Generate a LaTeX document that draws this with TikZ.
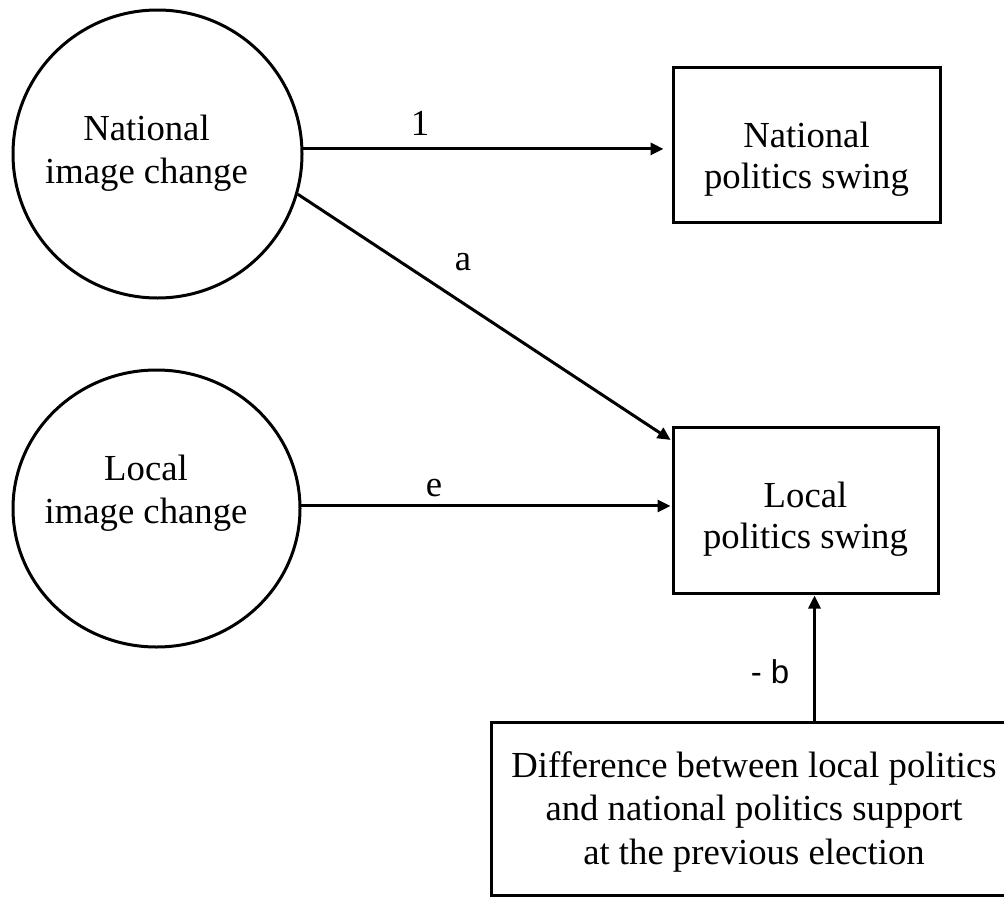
\documentclass[tikz,border=0pt]{standalone}
\usepackage{fontspec}
\setmainfont{Liberation Serif}
\newfontfamily\labelsans{Liberation Sans}
\usetikzlibrary{arrows.meta,shapes.geometric,calc}
\newcommand\boxtext[2]{\makebox[0pt][c]{\hspace*{#1}\begin{tabular}[t]{@{}c@{}}#2\end{tabular}}}
\begin{document}
\begin{tikzpicture}[x=1pt,y=-1pt,
  latent/.style={draw, ellipse, line width=3pt, inner sep=0pt,
    font=\fontsize{36.7}{43}\selectfont},
  observed/.style={draw, rectangle, line width=3pt, inner sep=0pt,
    font=\fontsize{36.7}{41}\selectfont},
  causal/.style={line width=3pt, -{Triangle[length=13pt,width=12pt]}},
  coef/.style={inner sep=0pt, font=\fontsize{36.7}{43}\selectfont},
  bcoef/.style={inner sep=0pt, font=\labelsans\fontsize{33}{38}\selectfont}]
\useasboundingbox (0,0) rectangle (1004,897);
\clip (0,0) rectangle (1004,897);
% latent variables
\node[latent, minimum width=289pt, minimum height=288pt, text height=20pt, text depth=48pt]
  (nic) at (157.5,154) {\boxtext{-22pt}{National\\image change}};
\node[latent, minimum width=287pt, minimum height=277pt, text height=10pt, text depth=67pt]
  (lic) at (156.5,508.5) {\boxtext{-21pt}{Local\\image change}};
% observed variables
\node[observed, minimum width=267pt, minimum height=155pt, text height=30pt, text depth=25pt]
  (nps) at (806.5,144.5) {\boxtext{0pt}{National\\politics swing}};
\node[observed, minimum width=265pt, minimum height=166pt, text height=20pt, text depth=26pt]
  (lps) at (805.5,510) {\boxtext{0pt}{Local\\politics swing}};
\node[observed, minimum width=524pt, minimum height=173pt, text height=10pt, text depth=73pt,
  font=\fontsize{36.7}{43.5}\selectfont]
  (diff) at (753,808.5) {\boxtext{2pt}{Difference between local politics\\and national politics support\\at the previous election}};
% coordinates
\coordinate (aend) at ($(lps.north west)+(0,15)$);
\coordinate (bsrc) at ($(diff.north west)+(325,0)$);
% paths
\draw[causal, shorten >=8pt] (nic.2) -- (nic.2 -| nps.west);
\draw[causal, shorten >=1pt] (nic.-16) -- (aend);
\draw[causal, shorten >=1pt] (lic.1) -- (lic.1 -| lps.west);
\draw[causal, shorten >=1pt] (bsrc) -- (bsrc |- lps.south);
% coefficients
\node[coef] (l1) at (420,123) {1};
\node[coef] (la) at (463,262) {a};
\node[coef] (le) at (434,488) {e};
\node[bcoef] (lb) at (770,672) {- b};
\end{tikzpicture}
\end{document}
